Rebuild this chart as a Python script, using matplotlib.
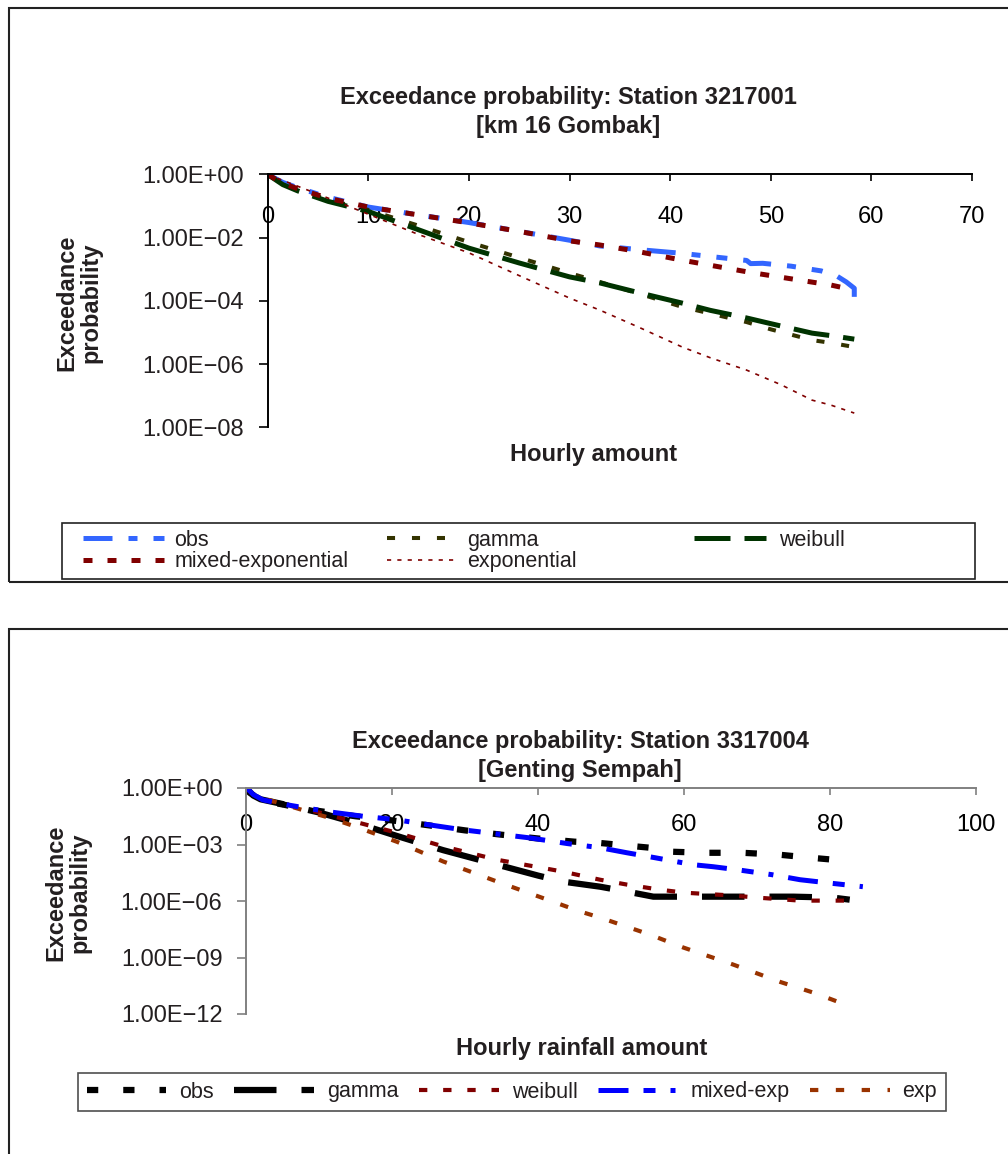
import numpy as np
import matplotlib
matplotlib.use('Agg')
import matplotlib.pyplot as plt
from matplotlib.patches import Rectangle
from matplotlib.ticker import FixedLocator, FuncFormatter, NullLocator

plt.rcParams['font.family'] = ['Liberation Sans', 'DejaVu Sans']
TXT = '#231f20'

# ---- station 3217001 (km 16 Gombak), values read as log10(exceedance prob.)
obs1_x = [0, 1.5, 3, 6, 10, 15, 20, 25, 30, 33, 37, 41, 45, 47.6, 48, 49.2, 52, 55, 56.5, 57.5, 58.3, 58.3]
obs1_y = [0, -0.25, -0.42, -0.72, -1.03, -1.28, -1.52, -1.8, -2.08, -2.26, -2.38, -2.49, -2.63, -2.72,
          -2.82, -2.81, -2.9, -3.05, -3.2, -3.4, -3.6, -3.9]
mix1_x = [0, 1.5, 3, 6, 10, 15, 20, 25, 30, 33, 37, 41, 45, 48, 52, 56, 58.3]
mix1_y = [0, -0.28, -0.45, -0.75, -1.03, -1.28, -1.53, -1.8, -2.1, -2.23, -2.45, -2.7, -2.93, -3.1,
          -3.3, -3.5, -3.66]
gam1_x = [0, 1.5, 3, 6, 10, 15, 20, 25, 30, 33, 37, 41.2, 44, 47.6, 50, 54.1, 56, 58.3]
gam1_y = [0, -0.3, -0.48, -0.8, -1.12, -1.62, -2.14, -2.63, -3.12, -3.4, -3.78, -4.19, -4.4, -4.67,
          -4.9, -5.24, -5.33, -5.46]
wei1_x = [0, 1.5, 3, 6, 10, 15, 20, 25, 30, 33, 37, 41.2, 44, 47.6, 50, 54.1, 56, 58.3]
wei1_y = [0, -0.32, -0.52, -0.85, -1.17, -1.75, -2.33, -2.8, -3.24, -3.43, -3.75, -4.07, -4.3, -4.54,
          -4.72, -5.02, -5.1, -5.21]
exp1_x = [0, 2, 5, 8, 11.5, 15, 20, 25, 30, 33, 37, 41.2, 44, 47.6, 51, 54.1, 56, 58.3]
exp1_y = [0, -0.25, -0.62, -1.0, -1.45, -1.9, -2.48, -3.2, -3.91, -4.29, -4.85, -5.46, -5.8, -6.19,
          -6.65, -7.14, -7.3, -7.55]

# ---- station 3317004 (Genting Sempah)
obs2_x = [0, 0.5, 1.5, 3, 6, 10, 15, 20, 25, 30, 35, 40, 45, 48, 52, 55.3, 58, 63, 68, 73, 77.3, 82]
obs2_y = [0, -0.25, -0.5, -0.72, -0.95, -1.22, -1.5, -1.72, -1.98, -2.25, -2.48, -2.68, -2.85, -2.9,
          -3.05, -3.17, -3.38, -3.44, -3.44, -3.54, -3.7, -3.86]
gam2_x = [0, 1, 2, 5, 10, 15, 20.7, 27, 34.4, 40, 43.4, 48.5, 52.2, 55.8, 60, 65, 70, 75, 80.4, 82.7]
gam2_y = [0, -0.4, -0.6, -0.85, -1.3, -1.85, -2.55, -3.3, -4.07, -4.65, -4.97, -5.24, -5.5, -5.77,
          -5.77, -5.77, -5.77, -5.77, -5.82, -5.93]
wei2_x = [0, 1, 2, 5, 10, 15, 20.7, 27, 34.4, 40, 43.4, 48.5, 52.2, 56.7, 60.1, 66.7, 70, 75.9, 82.3]
wei2_y = [0, -0.35, -0.55, -0.85, -1.3, -1.8, -2.38, -3.1, -3.81, -4.2, -4.44, -4.87, -5.13, -5.4,
          -5.56, -5.71, -5.82, -5.98, -5.98]
mix2_x = [0, 0.5, 1, 2.3, 5, 8, 11.5, 16, 20.7, 25, 29.7, 34, 38.9, 44, 48.5, 52.2, 56, 61.2, 64,
          67.3, 72, 75.9, 80, 84.5]
mix2_y = [0, -0.15, -0.35, -0.63, -0.85, -1.05, -1.27, -1.5, -1.69, -1.95, -2.22, -2.42, -2.65, -2.95,
          -3.17, -3.44, -3.7, -4.07, -4.18, -4.34, -4.6, -4.87, -5.05, -5.24]
exp2_x = [0, 1, 2, 5, 8, 11.5, 15, 20.7, 27, 34.4, 40, 45.8, 48.5, 55.3, 59.9, 66.7, 73.2, 78, 82.3]
exp2_y = [0, -0.3, -0.5, -0.85, -1.2, -1.59, -2.05, -2.86, -3.9, -4.97, -5.75, -6.56, -6.88, -7.78,
          -8.47, -9.37, -10.3, -10.9, -11.53]

W, H = 1008, 1154
fig = plt.figure(figsize=(W / 100, H / 100), dpi=100)


def fx(px):
    return px / W


def fy(py):
    return 1 - py / H


def sci(v, pos):
    e = int(round(np.log10(v)))
    if e == 0:
        return '1.00E+00'
    return '1.00E\u2212%02d' % (-e)


def setup_axes(ax, xmax, xstep, ymin_exp, ystep, spine_col, xpad):
    ax.set_yscale('log')
    ax.set_xlim(0, xmax)
    ax.set_ylim(10.0 ** ymin_exp, 1)
    ax.set_xticks(np.arange(0, xmax + 1, xstep))
    ax.yaxis.set_major_locator(FixedLocator([10.0 ** e for e in range(0, ymin_exp - 1, -ystep)]))
    ax.yaxis.set_major_formatter(FuncFormatter(sci))
    ax.yaxis.set_minor_locator(NullLocator())
    ax.spines['bottom'].set_position(('axes', 1.0))
    ax.spines['top'].set_visible(False)
    ax.spines['right'].set_visible(False)
    for s in ('bottom', 'left'):
        ax.spines[s].set_color(spine_col)
        ax.spines[s].set_linewidth(1.4)
    ax.tick_params(axis='x', direction='out', length=5, width=1.2, pad=xpad,
                   labelsize=17, colors=spine_col, labelcolor='black')
    ax.tick_params(axis='y', direction='out', length=6.5, width=1.2, pad=10.5,
                   labelsize=17, colors=spine_col, labelcolor=TXT)
    ax.patch.set_alpha(0)


# ---------------- panel frames
fig.add_artist(Rectangle((fx(9), fy(582)), 1.1, fy(8) - fy(582), transform=fig.transFigure,
                         fill=False, lw=1.5, edgecolor='#222222', clip_on=False))
fig.add_artist(Rectangle((fx(9), -0.05), 1.1, fy(629) + 0.05, transform=fig.transFigure,
                         fill=False, lw=1.5, edgecolor='#222222', clip_on=False))

# ---------------- top chart
ax1 = fig.add_axes([fx(267.7), fy(427.3), fx(972) - fx(267.7), fy(174.5) - fy(427.3)])
setup_axes(ax1, 70, 10, -8, 2, 'black', 17.5)

l_obs1, = ax1.plot(obs1_x, 10.0 ** np.array(obs1_y), color='#3366ff', lw=3.6,
                   dashes=(5.8, 3.2, 1.8, 3.2, 2.2, 3.2), label='obs')
l_gam1, = ax1.plot(gam1_x, 10.0 ** np.array(gam1_y), color='#333300', lw=2.9,
                   dashes=(2, 4.2), label='gamma')
l_wei1, = ax1.plot(wei1_x, 10.0 ** np.array(wei1_y), color='#003300', lw=3.6,
                   dashes=(7.2, 2.8), label='weibull')
l_mix1, = ax1.plot(mix1_x, 10.0 ** np.array(mix1_y), color='#800000', lw=3.6,
                   dashes=(1.8, 3), label='mixed-exponential')
l_exp1, = ax1.plot(exp1_x, 10.0 ** np.array(exp1_y), color='#800000', lw=1.2,
                   dashes=(2.5, 3.7), label='exponential')

fig.text(fx(568), fy(112), 'Exceedance probability: Station 3217001\n[km 16 Gombak]',
         ha='center', va='center', fontsize=17, fontweight='bold', color=TXT, linespacing=1.38)
fig.text(fx(594), fy(455), 'Hourly amount', ha='center', va='center',
         fontsize=17, fontweight='bold', color=TXT)
fig.text(fx(79), fy(303), 'Exceedance\nprobability', ha='center', va='center', rotation=90,
         fontsize=17, fontweight='bold', color=TXT, linespacing=1.05)

# legend of top chart: frame + three columns
fig.add_artist(Rectangle((fx(62), fy(579)), fx(975) - fx(62), fy(523) - fy(579),
                         transform=fig.transFigure, fill=False, lw=1.2, edgecolor='#222222'))
leg_cols = [([l_obs1, l_mix1], 83, 3.75, 0.5),
            ([l_gam1, l_exp1], 387, 3.1, 0.6),
            ([l_wei1], 694, 3.35, 0.6)]
for hs, x0, hl, tp in leg_cols:
    fig.legend(handles=hs, loc='upper left', bbox_to_anchor=(fx(x0), fy(530)),
               frameon=False, borderpad=0, borderaxespad=0, handlelength=hl,
               handletextpad=tp, labelspacing=0.02, fontsize=15.5, labelcolor=TXT)

# ---------------- bottom chart
ax2 = fig.add_axes([fx(246), fy(1014), fx(976) - fx(246), fy(788) - fy(1014)])
setup_axes(ax2, 100, 20, -12, 3, '#808080', 14)

l_obs2, = ax2.plot(obs2_x, 10.0 ** np.array(obs2_y), color='black', lw=4.5,
                   dashes=(1.8, 4), label='obs')
l_gam2, = ax2.plot(gam2_x, 10.0 ** np.array(gam2_y), color='black', lw=4.5,
                   dashes=(6.8, 4), label='gamma')
l_wei2, = ax2.plot(wei2_x, 10.0 ** np.array(wei2_y), color='#800000', lw=3,
                   dashes=(2, 3.8), label='weibull')
l_exp2, = ax2.plot(exp2_x, 10.0 ** np.array(exp2_y), color='#993300', lw=3,
                   dashes=(2, 4.2), label='exp')
l_mix2, = ax2.plot(mix2_x, 10.0 ** np.array(mix2_y), color='#0000ff', lw=3.6,
                   dashes=(6, 3, 2.4, 3, 1, 3), label='mixed-exp')

fig.text(fx(580), fy(756), 'Exceedance probability: Station 3317004\n[Genting Sempah]',
         ha='center', va='center', fontsize=17, fontweight='bold', color=TXT, linespacing=1.38)
fig.text(fx(582), fy(1048), 'Hourly rainfall amount', ha='center', va='center',
         fontsize=17, fontweight='bold', color=TXT)
fig.text(fx(68), fy(893), 'Exceedance\nprobability', ha='center', va='center', rotation=90,
         fontsize=17, fontweight='bold', color=TXT, linespacing=1.05)

leg2 = fig.legend(handles=[l_obs2, l_gam2, l_wei2, l_mix2, l_exp2], loc='center', ncol=5,
                  bbox_to_anchor=(fx(512), fy(1092)), frameon=True, fancybox=False,
                  edgecolor='#222222', borderpad=0.4, columnspacing=0.95, handlelength=3.7,
                  handletextpad=0.6, fontsize=15.5, labelcolor=TXT)
leg2.get_frame().set_linewidth(1.2)

fig.savefig('out.png', dpi=100)
